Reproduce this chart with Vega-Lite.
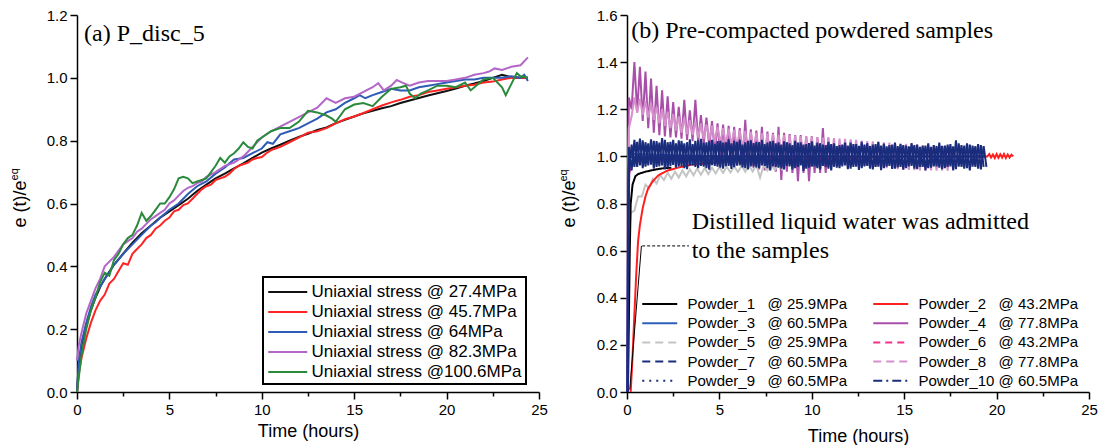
{
"$schema": "https://vega.github.io/schema/vega-lite/v6.json",
"background": "white",
"padding": {"left": 9, "top": 8, "right": 0, "bottom": 0},
"spacing": 9,
"config": {
  "view": {"stroke": null},
  "font": "Liberation Sans",
  "axis": {"domainColor": "#000", "domainWidth": 1.5, "tickColor": "#000", "tickWidth": 1.5, "labelFont": "Liberation Sans", "labelFontSize": 15, "labelColor": "#000", "labelPadding": 3, "labelFlush": false, "labelOverlap": false, "titleFont": "Liberation Sans", "titleFontSize": 18, "titleFontWeight": "normal", "titleColor": "#000", "grid": false, "domain": true, "ticks": true},
  "legend": {"labelFont": "Liberation Sans", "labelColor": "#000", "strokeWidth": 2}
},
"resolve": {"scale": {"color": "independent", "strokeDash": "independent"}},
"datasets": {
"left": [
{"s":"L1","t":0,"v":0},{"s":"L1","t":0.1,"v":0.09},{"s":"L1","t":0.25,"v":0.15},{"s":"L1","t":0.5,"v":0.21},{"s":"L1","t":0.75,"v":0.26},{"s":"L1","t":1,"v":0.3},{"s":"L1","t":1.3,"v":0.34},{"s":"L1","t":1.6,"v":0.37},{"s":"L1","t":2,"v":0.405},{"s":"L1","t":2.5,"v":0.44},{"s":"L1","t":3,"v":0.475},{"s":"L1","t":3.5,"v":0.505},{"s":"L1","t":4,"v":0.53},{"s":"L1","t":4.5,"v":0.555},{"s":"L1","t":5,"v":0.575},{"s":"L1","t":5.5,"v":0.595},{"s":"L1","t":6,"v":0.615},{"s":"L1","t":6.5,"v":0.64},{"s":"L1","t":7,"v":0.66},{"s":"L1","t":7.5,"v":0.68},{"s":"L1","t":8,"v":0.695},{"s":"L1","t":8.5,"v":0.712},{"s":"L1","t":9,"v":0.728},{"s":"L1","t":9.5,"v":0.745},{"s":"L1","t":10,"v":0.762},{"s":"L1","t":10.5,"v":0.775},{"s":"L1","t":11,"v":0.787},{"s":"L1","t":11.5,"v":0.8},{"s":"L1","t":12,"v":0.812},{"s":"L1","t":12.5,"v":0.822},{"s":"L1","t":13,"v":0.834},{"s":"L1","t":13.5,"v":0.842},{"s":"L1","t":14,"v":0.856},{"s":"L1","t":14.5,"v":0.866},{"s":"L1","t":15,"v":0.877},{"s":"L1","t":15.5,"v":0.887},{"s":"L1","t":16,"v":0.895},{"s":"L1","t":16.5,"v":0.903},{"s":"L1","t":17,"v":0.91},{"s":"L1","t":17.5,"v":0.92},{"s":"L1","t":18,"v":0.928},{"s":"L1","t":18.5,"v":0.936},{"s":"L1","t":19,"v":0.944},{"s":"L1","t":19.5,"v":0.951},{"s":"L1","t":20,"v":0.958},{"s":"L1","t":20.5,"v":0.966},{"s":"L1","t":21,"v":0.975},{"s":"L1","t":21.5,"v":0.982},{"s":"L1","t":22,"v":0.99},{"s":"L1","t":22.5,"v":1.0},{"s":"L1","t":23,"v":1.01},{"s":"L1","t":23.3,"v":1.005},{"s":"L1","t":23.6,"v":1.0},{"s":"L1","t":24,"v":1.0},{"s":"L1","t":24.4,"v":1.0},
{"s":"L2","t":0,"v":0},{"s":"L2","t":0.1,"v":0.06},{"s":"L2","t":0.25,"v":0.11},{"s":"L2","t":0.5,"v":0.17},{"s":"L2","t":0.75,"v":0.22},{"s":"L2","t":1,"v":0.26},{"s":"L2","t":1.25,"v":0.29},{"s":"L2","t":1.5,"v":0.31},{"s":"L2","t":1.75,"v":0.345},{"s":"L2","t":2,"v":0.36},{"s":"L2","t":2.25,"v":0.385},{"s":"L2","t":2.5,"v":0.41},{"s":"L2","t":2.75,"v":0.405},{"s":"L2","t":3,"v":0.44},{"s":"L2","t":3.25,"v":0.455},{"s":"L2","t":3.5,"v":0.47},{"s":"L2","t":3.75,"v":0.49},{"s":"L2","t":4,"v":0.5},{"s":"L2","t":4.25,"v":0.52},{"s":"L2","t":4.5,"v":0.53},{"s":"L2","t":4.75,"v":0.545},{"s":"L2","t":5,"v":0.555},{"s":"L2","t":5.25,"v":0.575},{"s":"L2","t":5.5,"v":0.58},{"s":"L2","t":5.75,"v":0.595},{"s":"L2","t":6,"v":0.6},{"s":"L2","t":6.25,"v":0.615},{"s":"L2","t":6.5,"v":0.63},{"s":"L2","t":6.75,"v":0.645},{"s":"L2","t":7,"v":0.655},{"s":"L2","t":7.25,"v":0.66},{"s":"L2","t":7.5,"v":0.675},{"s":"L2","t":7.75,"v":0.68},{"s":"L2","t":8,"v":0.685},{"s":"L2","t":8.25,"v":0.695},{"s":"L2","t":8.5,"v":0.71},{"s":"L2","t":8.75,"v":0.72},{"s":"L2","t":9,"v":0.725},{"s":"L2","t":9.25,"v":0.73},{"s":"L2","t":9.5,"v":0.74},{"s":"L2","t":9.75,"v":0.745},{"s":"L2","t":10,"v":0.748},{"s":"L2","t":10.25,"v":0.76},{"s":"L2","t":10.5,"v":0.77},{"s":"L2","t":10.75,"v":0.775},{"s":"L2","t":11,"v":0.78},{"s":"L2","t":11.5,"v":0.795},{"s":"L2","t":12,"v":0.81},{"s":"L2","t":12.5,"v":0.825},{"s":"L2","t":13,"v":0.83},{"s":"L2","t":13.5,"v":0.84},{"s":"L2","t":14,"v":0.855},{"s":"L2","t":14.5,"v":0.868},{"s":"L2","t":15,"v":0.877},{"s":"L2","t":15.5,"v":0.888},{"s":"L2","t":16,"v":0.9},{"s":"L2","t":16.5,"v":0.912},{"s":"L2","t":17,"v":0.922},{"s":"L2","t":17.5,"v":0.93},{"s":"L2","t":18,"v":0.94},{"s":"L2","t":18.5,"v":0.945},{"s":"L2","t":19,"v":0.955},{"s":"L2","t":19.5,"v":0.96},{"s":"L2","t":20,"v":0.965},{"s":"L2","t":20.5,"v":0.97},{"s":"L2","t":21,"v":0.975},{"s":"L2","t":21.5,"v":0.978},{"s":"L2","t":22,"v":0.985},{"s":"L2","t":22.5,"v":0.988},{"s":"L2","t":23,"v":0.995},{"s":"L2","t":23.5,"v":1.0},{"s":"L2","t":24,"v":1.0},{"s":"L2","t":24.4,"v":1.0},
{"s":"L3","t":0,"v":0},{"s":"L3","t":0.1,"v":0.1},{"s":"L3","t":0.25,"v":0.16},{"s":"L3","t":0.5,"v":0.22},{"s":"L3","t":0.75,"v":0.27},{"s":"L3","t":1,"v":0.31},{"s":"L3","t":1.25,"v":0.335},{"s":"L3","t":1.5,"v":0.36},{"s":"L3","t":1.75,"v":0.38},{"s":"L3","t":2,"v":0.405},{"s":"L3","t":2.5,"v":0.44},{"s":"L3","t":3,"v":0.47},{"s":"L3","t":3.5,"v":0.5},{"s":"L3","t":4,"v":0.53},{"s":"L3","t":4.25,"v":0.54},{"s":"L3","t":4.5,"v":0.555},{"s":"L3","t":5,"v":0.58},{"s":"L3","t":5.5,"v":0.6},{"s":"L3","t":6,"v":0.63},{"s":"L3","t":6.5,"v":0.655},{"s":"L3","t":7,"v":0.67},{"s":"L3","t":7.5,"v":0.695},{"s":"L3","t":8,"v":0.715},{"s":"L3","t":8.5,"v":0.74},{"s":"L3","t":9,"v":0.745},{"s":"L3","t":9.5,"v":0.76},{"s":"L3","t":10,"v":0.775},{"s":"L3","t":10.3,"v":0.795},{"s":"L3","t":10.6,"v":0.79},{"s":"L3","t":11,"v":0.82},{"s":"L3","t":11.5,"v":0.83},{"s":"L3","t":12,"v":0.84},{"s":"L3","t":12.5,"v":0.855},{"s":"L3","t":13,"v":0.87},{"s":"L3","t":13.5,"v":0.89},{"s":"L3","t":14,"v":0.9},{"s":"L3","t":14.5,"v":0.92},{"s":"L3","t":15,"v":0.935},{"s":"L3","t":15.3,"v":0.945},{"s":"L3","t":15.6,"v":0.935},{"s":"L3","t":16,"v":0.945},{"s":"L3","t":16.5,"v":0.955},{"s":"L3","t":17,"v":0.965},{"s":"L3","t":17.5,"v":0.96},{"s":"L3","t":18,"v":0.96},{"s":"L3","t":18.5,"v":0.97},{"s":"L3","t":19,"v":0.975},{"s":"L3","t":19.5,"v":0.98},{"s":"L3","t":20,"v":0.985},{"s":"L3","t":20.5,"v":0.99},{"s":"L3","t":21,"v":0.995},{"s":"L3","t":21.5,"v":0.995},{"s":"L3","t":22,"v":1.0},{"s":"L3","t":22.5,"v":1.0},{"s":"L3","t":23,"v":1.0},{"s":"L3","t":23.5,"v":1.005},{"s":"L3","t":24,"v":1.0},{"s":"L3","t":24.2,"v":1.01},{"s":"L3","t":24.4,"v":0.99},
{"s":"L4","t":0,"v":0.1},{"s":"L4","t":0.1,"v":0.15},{"s":"L4","t":0.25,"v":0.19},{"s":"L4","t":0.5,"v":0.25},{"s":"L4","t":0.75,"v":0.29},{"s":"L4","t":1,"v":0.33},{"s":"L4","t":1.25,"v":0.36},{"s":"L4","t":1.5,"v":0.4},{"s":"L4","t":1.75,"v":0.415},{"s":"L4","t":2,"v":0.43},{"s":"L4","t":2.25,"v":0.45},{"s":"L4","t":2.5,"v":0.47},{"s":"L4","t":2.75,"v":0.48},{"s":"L4","t":3,"v":0.49},{"s":"L4","t":3.25,"v":0.51},{"s":"L4","t":3.5,"v":0.52},{"s":"L4","t":3.75,"v":0.535},{"s":"L4","t":4,"v":0.55},{"s":"L4","t":4.25,"v":0.56},{"s":"L4","t":4.5,"v":0.57},{"s":"L4","t":4.75,"v":0.58},{"s":"L4","t":5,"v":0.6},{"s":"L4","t":5.25,"v":0.61},{"s":"L4","t":5.5,"v":0.625},{"s":"L4","t":5.75,"v":0.64},{"s":"L4","t":6,"v":0.65},{"s":"L4","t":6.25,"v":0.655},{"s":"L4","t":6.5,"v":0.665},{"s":"L4","t":6.75,"v":0.67},{"s":"L4","t":7,"v":0.685},{"s":"L4","t":7.5,"v":0.7},{"s":"L4","t":8,"v":0.72},{"s":"L4","t":8.5,"v":0.73},{"s":"L4","t":9,"v":0.75},{"s":"L4","t":9.5,"v":0.78},{"s":"L4","t":10,"v":0.81},{"s":"L4","t":10.5,"v":0.83},{"s":"L4","t":11,"v":0.845},{"s":"L4","t":11.5,"v":0.86},{"s":"L4","t":12,"v":0.875},{"s":"L4","t":12.5,"v":0.89},{"s":"L4","t":13,"v":0.905},{"s":"L4","t":13.5,"v":0.935},{"s":"L4","t":14,"v":0.92},{"s":"L4","t":14.5,"v":0.935},{"s":"L4","t":15,"v":0.94},{"s":"L4","t":15.5,"v":0.955},{"s":"L4","t":16,"v":0.97},{"s":"L4","t":16.3,"v":0.983},{"s":"L4","t":16.6,"v":0.96},{"s":"L4","t":17,"v":0.975},{"s":"L4","t":17.3,"v":0.993},{"s":"L4","t":17.6,"v":0.985},{"s":"L4","t":18,"v":0.975},{"s":"L4","t":18.5,"v":0.985},{"s":"L4","t":19,"v":0.99},{"s":"L4","t":19.5,"v":0.99},{"s":"L4","t":20,"v":0.99},{"s":"L4","t":20.5,"v":0.995},{"s":"L4","t":21,"v":1.0},{"s":"L4","t":21.5,"v":1.01},{"s":"L4","t":22,"v":1.015},{"s":"L4","t":22.3,"v":1.02},{"s":"L4","t":22.6,"v":1.03},{"s":"L4","t":23,"v":1.025},{"s":"L4","t":23.5,"v":1.035},{"s":"L4","t":24,"v":1.04},{"s":"L4","t":24.4,"v":1.065},
{"s":"L5","t":0,"v":0},{"s":"L5","t":0.25,"v":0.12},{"s":"L5","t":0.5,"v":0.2},{"s":"L5","t":0.75,"v":0.26},{"s":"L5","t":1,"v":0.3},{"s":"L5","t":1.25,"v":0.35},{"s":"L5","t":1.5,"v":0.38},{"s":"L5","t":1.75,"v":0.37},{"s":"L5","t":2,"v":0.42},{"s":"L5","t":2.25,"v":0.44},{"s":"L5","t":2.5,"v":0.47},{"s":"L5","t":2.75,"v":0.49},{"s":"L5","t":3,"v":0.5},{"s":"L5","t":3.25,"v":0.53},{"s":"L5","t":3.5,"v":0.57},{"s":"L5","t":3.75,"v":0.545},{"s":"L5","t":4,"v":0.56},{"s":"L5","t":4.25,"v":0.58},{"s":"L5","t":4.5,"v":0.6},{"s":"L5","t":4.75,"v":0.6},{"s":"L5","t":5,"v":0.62},{"s":"L5","t":5.25,"v":0.645},{"s":"L5","t":5.5,"v":0.68},{"s":"L5","t":5.75,"v":0.685},{"s":"L5","t":6,"v":0.68},{"s":"L5","t":6.25,"v":0.665},{"s":"L5","t":6.5,"v":0.67},{"s":"L5","t":6.75,"v":0.675},{"s":"L5","t":7,"v":0.68},{"s":"L5","t":7.25,"v":0.7},{"s":"L5","t":7.5,"v":0.72},{"s":"L5","t":7.75,"v":0.745},{"s":"L5","t":8,"v":0.73},{"s":"L5","t":8.25,"v":0.75},{"s":"L5","t":8.5,"v":0.76},{"s":"L5","t":8.75,"v":0.775},{"s":"L5","t":9,"v":0.795},{"s":"L5","t":9.25,"v":0.78},{"s":"L5","t":9.5,"v":0.775},{"s":"L5","t":9.75,"v":0.8},{"s":"L5","t":10,"v":0.81},{"s":"L5","t":10.5,"v":0.83},{"s":"L5","t":11,"v":0.84},{"s":"L5","t":11.5,"v":0.84},{"s":"L5","t":12,"v":0.86},{"s":"L5","t":12.5,"v":0.895},{"s":"L5","t":13,"v":0.89},{"s":"L5","t":13.5,"v":0.88},{"s":"L5","t":13.8,"v":0.87},{"s":"L5","t":14,"v":0.86},{"s":"L5","t":14.5,"v":0.9},{"s":"L5","t":15,"v":0.915},{"s":"L5","t":15.5,"v":0.92},{"s":"L5","t":16,"v":0.91},{"s":"L5","t":16.5,"v":0.94},{"s":"L5","t":17,"v":0.965},{"s":"L5","t":17.5,"v":0.97},{"s":"L5","t":17.8,"v":0.975},{"s":"L5","t":18,"v":0.95},{"s":"L5","t":18.3,"v":0.935},{"s":"L5","t":18.6,"v":0.95},{"s":"L5","t":19,"v":0.96},{"s":"L5","t":19.5,"v":0.975},{"s":"L5","t":20,"v":0.975},{"s":"L5","t":20.5,"v":0.97},{"s":"L5","t":21,"v":0.985},{"s":"L5","t":21.3,"v":0.96},{"s":"L5","t":21.6,"v":0.975},{"s":"L5","t":22,"v":0.995},{"s":"L5","t":22.5,"v":1.0},{"s":"L5","t":23,"v":0.97},{"s":"L5","t":23.2,"v":0.945},{"s":"L5","t":23.5,"v":0.98},{"s":"L5","t":23.8,"v":1.015},{"s":"L5","t":24,"v":1.005},{"s":"L5","t":24.4,"v":1.0}
],
"right": [
{"p":"P4","t":0.02,"v":0},{"p":"P4","t":0.05,"v":0.9},
{"p":"P4","t":0.1,"v":1.25},{"p":"P4","t":0.4,"v":1.4},{"p":"P4","t":0.7,"v":1.38},{"p":"P4","t":1.0,"v":1.36},{"p":"P4","t":1.3,"v":1.33},{"p":"P4","t":1.6,"v":1.3},{"p":"P4","t":1.9,"v":1.28},{"p":"P4","t":2.2,"v":1.255},{"p":"P4","t":2.5,"v":1.23},{"p":"P4","t":2.8,"v":1.21},{"p":"P4","t":3.1,"v":1.24},{"p":"P4","t":3.4,"v":1.195},{"p":"P4","t":3.7,"v":1.24},{"p":"P4","t":4.0,"v":1.175},{"p":"P4","t":4.3,"v":1.165},{"p":"P4","t":4.6,"v":1.15},{"p":"P4","t":4.9,"v":1.14},{"p":"P4","t":5.2,"v":1.135},{"p":"P4","t":5.5,"v":1.13},{"p":"P4","t":5.8,"v":1.125},{"p":"P4","t":6.1,"v":1.12},{"p":"P4","t":6.4,"v":1.155},{"p":"P4","t":6.7,"v":1.115},{"p":"P4","t":7.0,"v":1.11},{"p":"P4","t":7.3,"v":1.125},{"p":"P4","t":7.6,"v":1.105},{"p":"P4","t":7.9,"v":1.1},{"p":"P4","t":8.2,"v":1.125},{"p":"P4","t":8.5,"v":1.1},{"p":"P4","t":8.8,"v":1.095},{"p":"P4","t":9.1,"v":1.09},{"p":"P4","t":9.4,"v":1.09},{"p":"P4","t":9.7,"v":1.085},{"p":"P4","t":10.0,"v":1.085},{"p":"P4","t":10.3,"v":1.08},{"p":"P4","t":10.6,"v":1.12},{"p":"P4","t":10.9,"v":1.08},
{"p":"P4","t":0.25,"v":1.2},{"p":"P4","t":0.55,"v":1.19},{"p":"P4","t":0.85,"v":1.15},{"p":"P4","t":1.15,"v":1.12},{"p":"P4","t":1.45,"v":1.1},{"p":"P4","t":1.75,"v":1.09},{"p":"P4","t":2.05,"v":1.085},{"p":"P4","t":2.35,"v":1.08},{"p":"P4","t":2.65,"v":1.08},{"p":"P4","t":2.95,"v":1.075},{"p":"P4","t":3.25,"v":1.07},{"p":"P4","t":3.55,"v":1.065},{"p":"P4","t":3.85,"v":1.06},{"p":"P4","t":4.15,"v":1.05},{"p":"P4","t":4.45,"v":1.04},{"p":"P4","t":4.75,"v":1.02},{"p":"P4","t":5.05,"v":1.0},{"p":"P4","t":5.35,"v":0.985},{"p":"P4","t":5.65,"v":0.97},{"p":"P4","t":5.95,"v":0.96},{"p":"P4","t":6.25,"v":0.955},{"p":"P4","t":6.55,"v":0.95},{"p":"P4","t":6.85,"v":0.95},{"p":"P4","t":7.15,"v":0.945},{"p":"P4","t":7.45,"v":0.94},{"p":"P4","t":7.75,"v":0.94},{"p":"P4","t":8.05,"v":0.935},{"p":"P4","t":8.35,"v":0.9},{"p":"P4","t":8.65,"v":0.935},{"p":"P4","t":8.95,"v":0.93},{"p":"P4","t":9.25,"v":0.895},{"p":"P4","t":9.55,"v":0.93},{"p":"P4","t":9.85,"v":0.895},{"p":"P4","t":10.15,"v":0.93},{"p":"P4","t":10.45,"v":0.93},{"p":"P4","t":10.75,"v":0.93},
{"p":"P8","t":0.03,"v":0},{"p":"P8","t":0.06,"v":0.8},
{"p":"P8","t":0.1,"v":1.12},{"p":"P8","t":0.4,"v":1.25},{"p":"P8","t":0.7,"v":1.245},{"p":"P8","t":1.0,"v":1.235},{"p":"P8","t":1.3,"v":1.225},{"p":"P8","t":1.6,"v":1.21},{"p":"P8","t":1.9,"v":1.2},{"p":"P8","t":2.2,"v":1.19},{"p":"P8","t":2.5,"v":1.18},{"p":"P8","t":2.8,"v":1.17},{"p":"P8","t":3.1,"v":1.165},{"p":"P8","t":3.4,"v":1.155},{"p":"P8","t":3.7,"v":1.15},{"p":"P8","t":4.0,"v":1.14},{"p":"P8","t":4.3,"v":1.135},{"p":"P8","t":4.6,"v":1.13},{"p":"P8","t":4.9,"v":1.125},{"p":"P8","t":5.2,"v":1.12},{"p":"P8","t":5.5,"v":1.118},{"p":"P8","t":5.8,"v":1.112},{"p":"P8","t":6.1,"v":1.11},{"p":"P8","t":6.4,"v":1.108},{"p":"P8","t":6.7,"v":1.104},{"p":"P8","t":7.0,"v":1.1},{"p":"P8","t":7.3,"v":1.098},{"p":"P8","t":7.6,"v":1.096},{"p":"P8","t":7.9,"v":1.094},{"p":"P8","t":8.2,"v":1.092},{"p":"P8","t":8.5,"v":1.09},{"p":"P8","t":8.8,"v":1.09},{"p":"P8","t":9.1,"v":1.088},{"p":"P8","t":9.4,"v":1.086},{"p":"P8","t":9.7,"v":1.085},{"p":"P8","t":10.0,"v":1.084},{"p":"P8","t":10.3,"v":1.082},{"p":"P8","t":10.6,"v":1.08},{"p":"P8","t":10.9,"v":1.078},{"p":"P8","t":11.2,"v":1.077},{"p":"P8","t":11.5,"v":1.075},{"p":"P8","t":11.8,"v":1.074},{"p":"P8","t":12.1,"v":1.072},{"p":"P8","t":12.4,"v":1.07},{"p":"P8","t":12.7,"v":1.067},{"p":"P8","t":13.0,"v":1.065},{"p":"P8","t":13.3,"v":1.064},{"p":"P8","t":13.6,"v":1.062},{"p":"P8","t":13.9,"v":1.06},{"p":"P8","t":14.2,"v":1.058},{"p":"P8","t":14.5,"v":1.056},{"p":"P8","t":14.8,"v":1.055},{"p":"P8","t":15.1,"v":1.053},{"p":"P8","t":15.4,"v":1.052},{"p":"P8","t":15.7,"v":1.05},{"p":"P8","t":16.0,"v":1.048},{"p":"P8","t":16.3,"v":1.047},{"p":"P8","t":16.6,"v":1.045},{"p":"P8","t":16.9,"v":1.044},{"p":"P8","t":17.2,"v":1.042},{"p":"P8","t":17.5,"v":1.04},{"p":"P8","t":17.8,"v":1.038},
{"p":"P8","t":0.25,"v":1.17},{"p":"P8","t":0.55,"v":1.185},{"p":"P8","t":0.85,"v":1.175},{"p":"P8","t":1.15,"v":1.165},{"p":"P8","t":1.45,"v":1.155},{"p":"P8","t":1.75,"v":1.14},{"p":"P8","t":2.05,"v":1.13},{"p":"P8","t":2.35,"v":1.12},{"p":"P8","t":2.65,"v":1.11},{"p":"P8","t":2.95,"v":1.1},{"p":"P8","t":3.25,"v":1.095},{"p":"P8","t":3.55,"v":1.09},{"p":"P8","t":3.85,"v":1.08},{"p":"P8","t":4.15,"v":1.075},{"p":"P8","t":4.45,"v":1.07},{"p":"P8","t":4.75,"v":1.06},{"p":"P8","t":5.05,"v":1.055},{"p":"P8","t":5.35,"v":1.05},{"p":"P8","t":5.65,"v":1.045},{"p":"P8","t":5.95,"v":1.04},{"p":"P8","t":6.25,"v":1.035},{"p":"P8","t":6.55,"v":1.03},{"p":"P8","t":6.85,"v":1.025},{"p":"P8","t":7.15,"v":1.02},{"p":"P8","t":7.45,"v":1.015},{"p":"P8","t":7.75,"v":1.01},{"p":"P8","t":8.05,"v":1.005},{"p":"P8","t":8.35,"v":1.0},{"p":"P8","t":8.65,"v":0.998},{"p":"P8","t":8.95,"v":0.995},{"p":"P8","t":9.25,"v":0.99},{"p":"P8","t":9.55,"v":0.988},{"p":"P8","t":9.85,"v":0.985},{"p":"P8","t":10.15,"v":0.982},{"p":"P8","t":10.45,"v":0.98},{"p":"P8","t":10.75,"v":0.978},{"p":"P8","t":11.05,"v":0.975},{"p":"P8","t":11.35,"v":0.972},{"p":"P8","t":11.65,"v":0.97},{"p":"P8","t":11.95,"v":0.968},{"p":"P8","t":12.25,"v":0.965},{"p":"P8","t":12.55,"v":0.962},{"p":"P8","t":12.85,"v":0.96},{"p":"P8","t":13.15,"v":0.958},{"p":"P8","t":13.45,"v":0.955},{"p":"P8","t":13.75,"v":0.952},{"p":"P8","t":14.05,"v":0.95},{"p":"P8","t":14.35,"v":0.948},{"p":"P8","t":14.65,"v":0.946},{"p":"P8","t":14.95,"v":0.944},{"p":"P8","t":15.25,"v":0.943},{"p":"P8","t":15.55,"v":0.942},{"p":"P8","t":15.85,"v":0.94},{"p":"P8","t":16.15,"v":0.94},{"p":"P8","t":16.45,"v":0.94},{"p":"P8","t":16.75,"v":0.94},{"p":"P8","t":17.05,"v":0.94},{"p":"P8","t":17.35,"v":0.94},{"p":"P8","t":17.65,"v":0.94},
{"p":"P5","t":0.05,"v":0},{"p":"P5","t":0.1,"v":0.55},{"p":"P5","t":0.15,"v":0.7},{"p":"P5","t":0.2,"v":0.76},{"p":"P5","t":0.4,"v":0.77},{"p":"P5","t":0.6,"v":0.83},{"p":"P5","t":0.8,"v":0.83},{"p":"P5","t":1.0,"v":0.88},{"p":"P5","t":1.2,"v":0.865},{"p":"P5","t":1.4,"v":0.905},{"p":"P5","t":1.6,"v":0.885},{"p":"P5","t":1.8,"v":0.92},{"p":"P5","t":2.0,"v":0.9},{"p":"P5","t":2.2,"v":0.93},{"p":"P5","t":2.4,"v":0.905},{"p":"P5","t":2.6,"v":0.935},{"p":"P5","t":2.8,"v":0.91},{"p":"P5","t":3.0,"v":0.94},{"p":"P5","t":3.2,"v":0.915},{"p":"P5","t":3.4,"v":0.945},{"p":"P5","t":3.6,"v":0.92},{"p":"P5","t":3.8,"v":0.948},{"p":"P5","t":4.0,"v":0.922},{"p":"P5","t":4.2,"v":0.95},{"p":"P5","t":4.4,"v":0.925},{"p":"P5","t":4.6,"v":0.952},{"p":"P5","t":4.8,"v":0.928},{"p":"P5","t":5.0,"v":0.955},{"p":"P5","t":5.2,"v":0.93},{"p":"P5","t":5.4,"v":0.956},{"p":"P5","t":5.6,"v":0.932},{"p":"P5","t":5.8,"v":0.958},{"p":"P5","t":6.0,"v":0.934},{"p":"P5","t":6.2,"v":0.96},{"p":"P5","t":6.4,"v":0.935},{"p":"P5","t":6.6,"v":0.962},{"p":"P5","t":6.8,"v":0.936},{"p":"P5","t":7.0,"v":0.963},{"p":"P5","t":7.2,"v":0.91},{"p":"P5","t":7.4,"v":0.963},{"p":"P5","t":7.6,"v":0.94},{"p":"P5","t":7.8,"v":0.965},{"p":"P5","t":8.0,"v":0.942},{"p":"P5","t":8.2,"v":0.966},{"p":"P5","t":8.4,"v":0.945},{"p":"P5","t":8.6,"v":0.966},
{"p":"P2","t":0.2,"v":0},{"p":"P2","t":0.3,"v":0.15},{"p":"P2","t":0.4,"v":0.33},{"p":"P2","t":0.5,"v":0.5},{"p":"P2","t":0.6,"v":0.64},{"p":"P2","t":0.7,"v":0.71},{"p":"P2","t":0.85,"v":0.78},{"p":"P2","t":1.0,"v":0.83},{"p":"P2","t":1.15,"v":0.865},{"p":"P2","t":1.4,"v":0.895},{"p":"P2","t":1.7,"v":0.92},{"p":"P2","t":2.2,"v":0.94},{"p":"P2","t":2.9,"v":0.955},{"p":"P2","t":3.5,"v":0.965},{"p":"P2","t":5,"v":0.975},{"p":"P2","t":7,"v":0.985},{"p":"P2","t":10,"v":0.99},{"p":"P2","t":13,"v":0.995},{"p":"P2","t":16,"v":1.0},{"p":"P2","t":19.5,"v":1.0},{"p":"P2","t":19.6,"v":1.01},{"p":"P2","t":19.7,"v":0.995},{"p":"P2","t":19.8,"v":1.008},{"p":"P2","t":19.9,"v":0.993},{"p":"P2","t":20.0,"v":1.01},{"p":"P2","t":20.1,"v":0.994},{"p":"P2","t":20.2,"v":1.009},{"p":"P2","t":20.3,"v":0.995},{"p":"P2","t":20.4,"v":1.01},{"p":"P2","t":20.5,"v":0.993},{"p":"P2","t":20.6,"v":1.008},{"p":"P2","t":20.7,"v":0.995},{"p":"P2","t":20.8,"v":1.007},{"p":"P2","t":20.9,"v":1.0},
{"p":"P1","t":0.05,"v":0},{"p":"P1","t":0.1,"v":0.3},{"p":"P1","t":0.15,"v":0.6},{"p":"P1","t":0.2,"v":0.8},{"p":"P1","t":0.3,"v":0.88},{"p":"P1","t":0.45,"v":0.915},{"p":"P1","t":0.6,"v":0.925},{"p":"P1","t":0.8,"v":0.93},{"p":"P1","t":1.0,"v":0.935},{"p":"P1","t":1.3,"v":0.94},{"p":"P1","t":1.6,"v":0.945},{"p":"P1","t":2.0,"v":0.95},{"p":"P1","t":2.4,"v":0.952},
{"p":"P6","t":0.03,"v":0},{"p":"P6","t":0.05,"v":0.4},{"p":"P6","t":0.08,"v":0.8},{"p":"P6","t":0.12,"v":0.93},{"p":"P6","t":0.3,"v":0.97},{"p":"P6","t":1,"v":0.99},{"p":"P6","t":5,"v":1.0},{"p":"P6","t":12,"v":1.0},
{"p":"P3","t":0.02,"v":0},{"p":"P3","t":0.04,"v":0.5},{"p":"P3","t":0.07,"v":0.85},{"p":"P3","t":0.1,"v":0.98},{"p":"P3","t":0.3,"v":1.01},{"p":"P3","t":5,"v":1.0},{"p":"P3","t":10,"v":1.0},{"p":"P3","t":15,"v":1.0},{"p":"P3","t":19.4,"v":1.0},
{"p":"P9","t":0.03,"v":0},{"p":"P9","t":0.06,"v":0.7},{"p":"P9","t":0.09,"v":0.95},{"p":"P9","t":0.15,"v":1.0},{"p":"P9","t":19.4,"v":1.0},
{"p":"P7","t":0.04,"v":0},{"p":"P7","t":0.08,"v":0.7},{"p":"P7","t":0.12,"v":0.95},
{"p":"P7","t":0.25,"v":1.05},{"p":"P7","t":0.55,"v":1.062},{"p":"P7","t":0.85,"v":1.068},{"p":"P7","t":1.15,"v":1.055},{"p":"P7","t":1.45,"v":1.066},{"p":"P7","t":1.75,"v":1.058},{"p":"P7","t":2.05,"v":1.07},{"p":"P7","t":2.35,"v":1.062},{"p":"P7","t":2.65,"v":1.055},{"p":"P7","t":2.95,"v":1.066},{"p":"P7","t":3.25,"v":1.06},{"p":"P7","t":3.55,"v":1.052},{"p":"P7","t":3.85,"v":1.068},{"p":"P7","t":4.15,"v":1.058},{"p":"P7","t":4.45,"v":1.064},{"p":"P7","t":4.75,"v":1.052},{"p":"P7","t":5.05,"v":1.066},{"p":"P7","t":5.35,"v":1.06},{"p":"P7","t":5.65,"v":1.055},{"p":"P7","t":5.95,"v":1.062},{"p":"P7","t":6.25,"v":1.05},{"p":"P7","t":6.55,"v":1.066},{"p":"P7","t":6.85,"v":1.056},{"p":"P7","t":7.15,"v":1.06},{"p":"P7","t":7.45,"v":1.052},{"p":"P7","t":7.75,"v":1.064},{"p":"P7","t":8.05,"v":1.055},{"p":"P7","t":8.35,"v":1.05},{"p":"P7","t":8.65,"v":1.06},{"p":"P7","t":8.95,"v":1.048},{"p":"P7","t":9.25,"v":1.058},{"p":"P7","t":9.55,"v":1.05},{"p":"P7","t":9.85,"v":1.056},{"p":"P7","t":10.15,"v":1.046},{"p":"P7","t":10.45,"v":1.055},{"p":"P7","t":10.75,"v":1.048},{"p":"P7","t":11.05,"v":1.052},{"p":"P7","t":11.35,"v":1.044},{"p":"P7","t":11.65,"v":1.05},{"p":"P7","t":11.95,"v":1.046},{"p":"P7","t":12.25,"v":1.052},{"p":"P7","t":12.55,"v":1.045},{"p":"P7","t":12.85,"v":1.05},{"p":"P7","t":13.15,"v":1.044},{"p":"P7","t":13.45,"v":1.052},{"p":"P7","t":13.75,"v":1.046},{"p":"P7","t":14.05,"v":1.042},{"p":"P7","t":14.35,"v":1.05},{"p":"P7","t":14.65,"v":1.043},{"p":"P7","t":14.95,"v":1.048},{"p":"P7","t":15.25,"v":1.042},{"p":"P7","t":15.55,"v":1.048},{"p":"P7","t":15.85,"v":1.04},{"p":"P7","t":16.15,"v":1.046},{"p":"P7","t":16.45,"v":1.04},{"p":"P7","t":16.75,"v":1.044},{"p":"P7","t":17.05,"v":1.045},{"p":"P7","t":17.35,"v":1.05},{"p":"P7","t":17.65,"v":1.042},{"p":"P7","t":17.95,"v":1.055},{"p":"P7","t":18.25,"v":1.046},{"p":"P7","t":18.55,"v":1.05},{"p":"P7","t":18.85,"v":1.043},{"p":"P7","t":19.15,"v":1.048},
{"p":"P7","t":0.4,"v":0.955},{"p":"P7","t":0.7,"v":0.962},{"p":"P7","t":1.0,"v":0.956},{"p":"P7","t":1.3,"v":0.965},{"p":"P7","t":1.6,"v":0.955},{"p":"P7","t":1.9,"v":0.962},{"p":"P7","t":2.2,"v":0.952},{"p":"P7","t":2.5,"v":0.964},{"p":"P7","t":2.8,"v":0.957},{"p":"P7","t":3.1,"v":0.95},{"p":"P7","t":3.4,"v":0.962},{"p":"P7","t":3.7,"v":0.955},{"p":"P7","t":4.0,"v":0.96},{"p":"P7","t":4.3,"v":0.95},{"p":"P7","t":4.6,"v":0.963},{"p":"P7","t":4.9,"v":0.956},{"p":"P7","t":5.2,"v":0.948},{"p":"P7","t":5.5,"v":0.96},{"p":"P7","t":5.8,"v":0.954},{"p":"P7","t":6.1,"v":0.962},{"p":"P7","t":6.4,"v":0.95},{"p":"P7","t":6.7,"v":0.958},{"p":"P7","t":7.0,"v":0.953},{"p":"P7","t":7.3,"v":0.962},{"p":"P7","t":7.6,"v":0.95},{"p":"P7","t":7.9,"v":0.958},{"p":"P7","t":8.2,"v":0.952},{"p":"P7","t":8.5,"v":0.945},{"p":"P7","t":8.8,"v":0.958},{"p":"P7","t":9.1,"v":0.95},{"p":"P7","t":9.4,"v":0.962},{"p":"P7","t":9.7,"v":0.948},{"p":"P7","t":10.0,"v":0.956},{"p":"P7","t":10.3,"v":0.95},{"p":"P7","t":10.6,"v":0.96},{"p":"P7","t":10.9,"v":0.948},{"p":"P7","t":11.2,"v":0.956},{"p":"P7","t":11.5,"v":0.95},{"p":"P7","t":11.8,"v":0.962},{"p":"P7","t":12.1,"v":0.948},{"p":"P7","t":12.4,"v":0.956},{"p":"P7","t":12.7,"v":0.95},{"p":"P7","t":13.0,"v":0.96},{"p":"P7","t":13.3,"v":0.945},{"p":"P7","t":13.6,"v":0.956},{"p":"P7","t":13.9,"v":0.95},{"p":"P7","t":14.2,"v":0.96},{"p":"P7","t":14.5,"v":0.948},{"p":"P7","t":14.8,"v":0.955},{"p":"P7","t":15.1,"v":0.95},{"p":"P7","t":15.4,"v":0.96},{"p":"P7","t":15.7,"v":0.946},{"p":"P7","t":16.0,"v":0.955},{"p":"P7","t":16.3,"v":0.95},{"p":"P7","t":16.6,"v":0.958},{"p":"P7","t":16.9,"v":0.952},{"p":"P7","t":17.2,"v":0.95},{"p":"P7","t":17.5,"v":0.958},{"p":"P7","t":17.8,"v":0.946},{"p":"P7","t":18.1,"v":0.955},{"p":"P7","t":18.4,"v":0.95},{"p":"P7","t":18.7,"v":0.957},{"p":"P7","t":19.0,"v":0.948},{"p":"P7","t":19.3,"v":0.955},
{"p":"P10","t":0.03,"v":0},{"p":"P10","t":0.06,"v":0.5},{"p":"P10","t":0.08,"v":0.9},
{"p":"P10","t":0.1,"v":1.04},{"p":"P10","t":0.4,"v":1.07},{"p":"P10","t":0.7,"v":1.075},{"p":"P10","t":1.0,"v":1.06},{"p":"P10","t":1.3,"v":1.072},{"p":"P10","t":1.6,"v":1.065},{"p":"P10","t":1.9,"v":1.078},{"p":"P10","t":2.2,"v":1.06},{"p":"P10","t":2.5,"v":1.07},{"p":"P10","t":2.8,"v":1.068},{"p":"P10","t":3.1,"v":1.055},{"p":"P10","t":3.4,"v":1.072},{"p":"P10","t":3.7,"v":1.066},{"p":"P10","t":4.0,"v":1.074},{"p":"P10","t":4.3,"v":1.06},{"p":"P10","t":4.6,"v":1.07},{"p":"P10","t":4.9,"v":1.065},{"p":"P10","t":5.2,"v":1.058},{"p":"P10","t":5.5,"v":1.072},{"p":"P10","t":5.8,"v":1.066},{"p":"P10","t":6.1,"v":1.07},{"p":"P10","t":6.4,"v":1.06},{"p":"P10","t":6.7,"v":1.068},{"p":"P10","t":7.0,"v":1.062},{"p":"P10","t":7.3,"v":1.07},{"p":"P10","t":7.6,"v":1.058},{"p":"P10","t":7.9,"v":1.066},{"p":"P10","t":8.2,"v":1.06},{"p":"P10","t":8.5,"v":1.064},{"p":"P10","t":8.8,"v":1.055},{"p":"P10","t":9.1,"v":1.066},{"p":"P10","t":9.4,"v":1.06},{"p":"P10","t":9.7,"v":1.052},{"p":"P10","t":10.0,"v":1.064},{"p":"P10","t":10.3,"v":1.058},{"p":"P10","t":10.6,"v":1.05},{"p":"P10","t":10.9,"v":1.062},{"p":"P10","t":11.2,"v":1.055},{"p":"P10","t":11.5,"v":1.048},{"p":"P10","t":11.8,"v":1.058},{"p":"P10","t":12.1,"v":1.058},{"p":"P10","t":12.4,"v":1.052},{"p":"P10","t":12.7,"v":1.062},{"p":"P10","t":13.0,"v":1.055},{"p":"P10","t":13.3,"v":1.05},{"p":"P10","t":13.6,"v":1.062},{"p":"P10","t":13.9,"v":1.054},{"p":"P10","t":14.2,"v":1.048},{"p":"P10","t":14.5,"v":1.058},{"p":"P10","t":14.8,"v":1.052},{"p":"P10","t":15.1,"v":1.046},{"p":"P10","t":15.4,"v":1.056},{"p":"P10","t":15.7,"v":1.05},{"p":"P10","t":16.0,"v":1.045},{"p":"P10","t":16.3,"v":1.055},{"p":"P10","t":16.6,"v":1.048},{"p":"P10","t":16.9,"v":1.058},{"p":"P10","t":17.2,"v":1.046},{"p":"P10","t":17.5,"v":1.052},{"p":"P10","t":17.8,"v":1.068},{"p":"P10","t":18.1,"v":1.048},{"p":"P10","t":18.4,"v":1.055},{"p":"P10","t":18.7,"v":1.046},{"p":"P10","t":19.0,"v":1.052},{"p":"P10","t":19.3,"v":1.044},
{"p":"P10","t":0.25,"v":0.94},{"p":"P10","t":0.55,"v":0.955},{"p":"P10","t":0.85,"v":0.95},{"p":"P10","t":1.15,"v":0.962},{"p":"P10","t":1.45,"v":0.948},{"p":"P10","t":1.75,"v":0.958},{"p":"P10","t":2.05,"v":0.945},{"p":"P10","t":2.35,"v":0.96},{"p":"P10","t":2.65,"v":0.952},{"p":"P10","t":2.95,"v":0.958},{"p":"P10","t":3.25,"v":0.946},{"p":"P10","t":3.55,"v":0.962},{"p":"P10","t":3.85,"v":0.95},{"p":"P10","t":4.15,"v":0.956},{"p":"P10","t":4.45,"v":0.944},{"p":"P10","t":4.75,"v":0.96},{"p":"P10","t":5.05,"v":0.952},{"p":"P10","t":5.35,"v":0.958},{"p":"P10","t":5.65,"v":0.947},{"p":"P10","t":5.95,"v":0.962},{"p":"P10","t":6.25,"v":0.953},{"p":"P10","t":6.55,"v":0.945},{"p":"P10","t":6.85,"v":0.958},{"p":"P10","t":7.15,"v":0.95},{"p":"P10","t":7.45,"v":0.96},{"p":"P10","t":7.75,"v":0.942},{"p":"P10","t":8.05,"v":0.955},{"p":"P10","t":8.35,"v":0.948},{"p":"P10","t":8.65,"v":0.96},{"p":"P10","t":8.95,"v":0.945},{"p":"P10","t":9.25,"v":0.955},{"p":"P10","t":9.55,"v":0.938},{"p":"P10","t":9.85,"v":0.952},{"p":"P10","t":10.15,"v":0.958},{"p":"P10","t":10.45,"v":0.945},{"p":"P10","t":10.75,"v":0.955},{"p":"P10","t":11.05,"v":0.94},{"p":"P10","t":11.35,"v":0.952},{"p":"P10","t":11.65,"v":0.958},{"p":"P10","t":11.95,"v":0.946},{"p":"P10","t":12.25,"v":0.955},{"p":"P10","t":12.55,"v":0.943},{"p":"P10","t":12.85,"v":0.958},{"p":"P10","t":13.15,"v":0.948},{"p":"P10","t":13.45,"v":0.955},{"p":"P10","t":13.75,"v":0.942},{"p":"P10","t":14.05,"v":0.957},{"p":"P10","t":14.35,"v":0.947},{"p":"P10","t":14.65,"v":0.953},{"p":"P10","t":14.95,"v":0.944},{"p":"P10","t":15.25,"v":0.958},{"p":"P10","t":15.55,"v":0.948},{"p":"P10","t":15.85,"v":0.955},{"p":"P10","t":16.15,"v":0.94},{"p":"P10","t":16.45,"v":0.952},{"p":"P10","t":16.75,"v":0.958},{"p":"P10","t":17.05,"v":0.946},{"p":"P10","t":17.35,"v":0.955},{"p":"P10","t":17.65,"v":0.942},{"p":"P10","t":17.95,"v":0.956},{"p":"P10","t":18.25,"v":0.948},{"p":"P10","t":18.55,"v":0.94},{"p":"P10","t":18.85,"v":0.955},{"p":"P10","t":19.15,"v":0.945},{"p":"P10","t":19.45,"v":0.955}
]
},
"hconcat": [
{
  "width": 462, "height": 377,
  "layer": [
    {
      "data": {"name": "left"},
      "mark": {"type": "line", "strokeWidth": 2},
      "encoding": {
        "x": {"field": "t", "type": "quantitative", "scale": {"domain": [0, 25], "nice": false, "zero": false},
              "axis": {"values": [0, 2.5, 5, 7.5, 10, 12.5, 15, 17.5, 20, 22.5, 25], "labelExpr": "datum.value % 5 === 0 ? format(datum.value, 'd') : ''", "tickSize": {"condition": {"test": "datum.value % 5 === 0", "value": 7}, "value": 4}, "title": "Time (hours)", "titlePadding": 5}},
        "y": {"field": "v", "type": "quantitative", "scale": {"domain": [0, 1.2], "nice": false},
              "axis": {"values": [0, 0.1, 0.2, 0.3, 0.4, 0.5, 0.6, 0.7, 0.8, 0.9, 1.0, 1.1, 1.2], "labelExpr": "round(datum.value * 10) % 2 === 0 ? format(datum.value, '.1f') : ''", "tickSize": {"condition": {"test": "round(datum.value * 10) % 2 === 0", "value": 7}, "value": 4}, "title": "e (t)/e", "titlePadding": 17}},
        "color": {"field": "s", "type": "nominal",
          "scale": {"domain": ["L1", "L2", "L3", "L4", "L5"], "range": ["#111111", "#ff2424", "#2e5bb5", "#b466c8", "#2a8a3c"]},
          "legend": {"title": null, "orient": "none", "legendX": 186, "legendY": 262, "strokeColor": "#000", "padding": 4, "labelFontSize": 17, "symbolType": "M-1,0L3,0", "symbolSize": 380, "symbolStrokeWidth": 2, "rowPadding": 1, "labelOffset": 22.5, "labelLimit": 400,
            "labelExpr": "{'L1':'Uniaxial stress @ 27.4MPa','L2':'Uniaxial stress @ 45.7MPa','L3':'Uniaxial stress @ 64MPa','L4':'Uniaxial stress @ 82.3MPa','L5':'Uniaxial stress @100.6MPa'}[datum.label]"}}
      }
    },
    {
      "data": {"values": [{}]},
      "mark": {"type": "text", "font": "Liberation Serif", "fontSize": 24, "align": "left", "baseline": "middle", "color": "#000"},
      "encoding": {"x": {"datum": 0.38, "type": "quantitative"}, "y": {"datum": 1.14, "type": "quantitative"}, "text": {"value": "(a) P_disc_5"}}
    },
    {
      "data": {"values": [{}]},
      "mark": {"type": "text", "font": "Liberation Sans", "fontSize": 11, "angle": 270, "align": "center", "baseline": "middle", "color": "#000"},
      "encoding": {"x": {"datum": -3.35, "type": "quantitative"}, "y": {"datum": 0.693, "type": "quantitative"}, "text": {"value": "eq"}}
    }
  ]
},
{
  "width": 462, "height": 377,
  "layer": [
    {
      "data": {"name": "right"},
      "mark": {"type": "line"},
      "encoding": {
        "x": {"field": "t", "type": "quantitative", "scale": {"domain": [0, 25], "nice": false, "zero": false},
              "axis": {"values": [0, 2.5, 5, 7.5, 10, 12.5, 15, 17.5, 20, 22.5, 25], "labelExpr": "datum.value % 5 === 0 ? format(datum.value, 'd') : ''", "tickSize": {"condition": {"test": "datum.value % 5 === 0", "value": 7}, "value": 4}, "title": "Time (hours)", "titlePadding": 10}},
        "y": {"field": "v", "type": "quantitative", "scale": {"domain": [0, 1.6], "nice": false},
              "axis": {"values": [0, 0.1, 0.2, 0.3, 0.4, 0.5, 0.6, 0.7, 0.8, 0.9, 1.0, 1.1, 1.2, 1.3, 1.4, 1.5, 1.6], "labelExpr": "round(datum.value * 10) % 2 === 0 ? format(datum.value, '.1f') : ''", "tickSize": {"condition": {"test": "round(datum.value * 10) % 2 === 0", "value": 7}, "value": 4}, "title": "e (t)/e", "titlePadding": 18}},
        "color": {"field": "p", "type": "nominal",
          "scale": {"domain": ["P1", "P3", "P5", "P7", "P9", "P2", "P4", "P6", "P8", "P10"], "range": ["#000000", "#2d5fb8", "#c4c4c4", "#1a2c7c", "#1a2c7c", "#ff1f1f", "#a94fa9", "#f0308a", "#d590cc", "#1a2c7c"]},
          "legend": {"title": null, "orient": "none", "legendX": 14, "legendY": 279, "columns": 2, "columnPadding": 22, "padding": 0, "labelFontSize": 15, "symbolType": "M-1,0L3,0", "symbolSize": 306, "symbolStrokeWidth": 2, "rowPadding": 1.2, "labelOffset": 26.5, "labelLimit": 400,
            "labelExpr": "{'P1':'Powder_1\u00a0\u00a0\u00a0@ 25.9MPa','P2':'Powder_2\u00a0\u00a0\u00a0@ 43.2MPa','P3':'Powder_3\u00a0\u00a0\u00a0@ 60.5MPa','P4':'Powder_4\u00a0\u00a0\u00a0@ 77.8MPa','P5':'Powder_5\u00a0\u00a0\u00a0@ 25.9MPa','P6':'Powder_6\u00a0\u00a0\u00a0@ 43.2MPa','P7':'Powder_7\u00a0\u00a0\u00a0@ 60.5MPa','P8':'Powder_8\u00a0\u00a0\u00a0@ 77.8MPa','P9':'Powder_9\u00a0\u00a0\u00a0@ 60.5MPa','P10':'Powder_10\u00a0@ 60.5MPa'}[datum.label]"}},
        "strokeDash": {"field": "p", "type": "nominal",
          "condition": {"test": "true", "value": [1, 0]},
          "scale": {"domain": ["P1", "P3", "P5", "P7", "P9", "P2", "P4", "P6", "P8", "P10"], "range": [[1, 0], [1, 0], [8, 5], [8, 5], [2, 5], [1, 0], [1, 0], [7, 5], [8, 5], [9, 4, 2, 4]]},
          "legend": {"title": null, "orient": "none", "legendX": 14, "legendY": 279, "columns": 2, "columnPadding": 22, "padding": 0, "labelFontSize": 15, "symbolType": "M-1,0L3,0", "symbolSize": 306, "symbolStrokeWidth": 2, "rowPadding": 1.2, "labelOffset": 26.5, "labelLimit": 400,
            "labelExpr": "{'P1':'Powder_1\u00a0\u00a0\u00a0@ 25.9MPa','P2':'Powder_2\u00a0\u00a0\u00a0@ 43.2MPa','P3':'Powder_3\u00a0\u00a0\u00a0@ 60.5MPa','P4':'Powder_4\u00a0\u00a0\u00a0@ 77.8MPa','P5':'Powder_5\u00a0\u00a0\u00a0@ 25.9MPa','P6':'Powder_6\u00a0\u00a0\u00a0@ 43.2MPa','P7':'Powder_7\u00a0\u00a0\u00a0@ 60.5MPa','P8':'Powder_8\u00a0\u00a0\u00a0@ 77.8MPa','P9':'Powder_9\u00a0\u00a0\u00a0@ 60.5MPa','P10':'Powder_10\u00a0@ 60.5MPa'}[datum.label]"}},
        "strokeWidth": {"field": "p", "type": "ordinal", "legend": null,
          "scale": {"domain": ["P1", "P3", "P5", "P7", "P9", "P2", "P4", "P6", "P8", "P10"], "range": [2, 2, 2.5, 3, 2, 2.5, 3.5, 2, 3.5, 3]}}
      }
    },
    {
      "data": {"values": [{}]},
      "mark": {"type": "rule", "color": "#000", "strokeWidth": 1},
      "encoding": {"x": {"datum": 0.15, "type": "quantitative"}, "y": {"datum": 0.01, "type": "quantitative"}, "x2": {"datum": 0.78}, "y2": {"datum": 0.62}}
    },
    {
      "data": {"values": [{}]},
      "mark": {"type": "rule", "color": "#000", "strokeWidth": 1, "strokeDash": [3, 2]},
      "encoding": {"x": {"datum": 0.82, "type": "quantitative"}, "y": {"datum": 0.62, "type": "quantitative"}, "x2": {"datum": 3.35}}
    },
    {
      "data": {"values": [{}]},
      "mark": {"type": "text", "font": "Liberation Serif", "fontSize": 24, "align": "left", "baseline": "middle", "color": "#000"},
      "encoding": {"x": {"datum": 0.23, "type": "quantitative"}, "y": {"datum": 1.53, "type": "quantitative"}, "text": {"value": "(b) Pre-compacted powdered samples"}}
    },
    {
      "data": {"values": [{}]},
      "mark": {"type": "text", "font": "Liberation Serif", "fontSize": 24, "align": "left", "baseline": "middle", "color": "#000"},
      "encoding": {"x": {"datum": 3.5, "type": "quantitative"}, "y": {"datum": 0.723, "type": "quantitative"}, "text": {"value": "Distilled liquid water was admitted"}}
    },
    {
      "data": {"values": [{}]},
      "mark": {"type": "text", "font": "Liberation Serif", "fontSize": 24, "align": "left", "baseline": "middle", "color": "#000"},
      "encoding": {"x": {"datum": 3.5, "type": "quantitative"}, "y": {"datum": 0.6, "type": "quantitative"}, "text": {"value": "to the samples"}}
    },
    {
      "data": {"values": [{}]},
      "mark": {"type": "text", "font": "Liberation Sans", "fontSize": 11, "angle": 270, "align": "center", "baseline": "middle", "color": "#000"},
      "encoding": {"x": {"datum": -3.42, "type": "quantitative"}, "y": {"datum": 0.919, "type": "quantitative"}, "text": {"value": "eq"}}
    }
  ]
}
]
}
